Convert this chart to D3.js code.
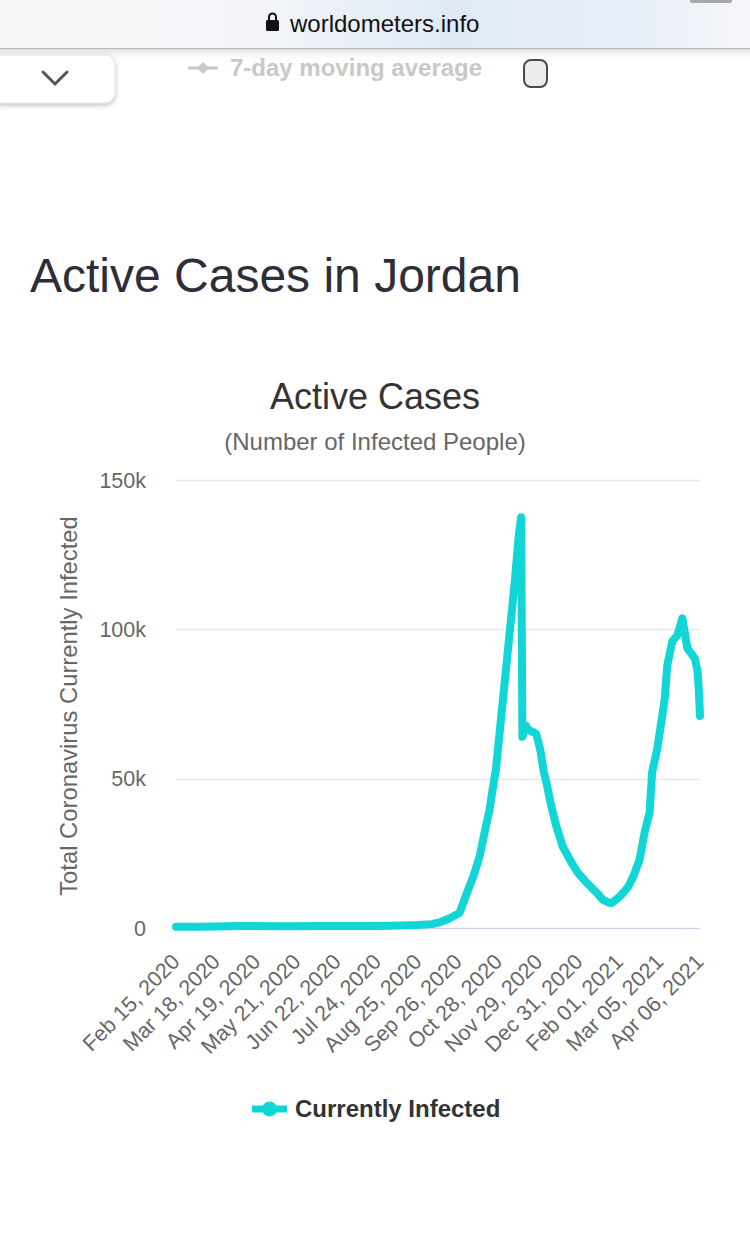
<!DOCTYPE html>
<html>
<head>
<meta charset="utf-8">
<script src="https://cdn.jsdelivr.net/npm/d3@7"></script>
<style>
html,body{margin:0;padding:0;background:#fff;}
svg{display:block;font-family:"Liberation Sans",Arial,Helvetica,sans-serif;}
</style>
</head>
<body>
<svg id="c" width="750" height="1242"></svg>
<script>
// ---- data ----
const dates = ["2020-02-15","2020-03-01","2020-03-18","2020-04-05","2020-04-19","2020-05-05","2020-05-21","2020-06-06","2020-06-22","2020-07-08","2020-07-24","2020-08-10","2020-08-25","2020-09-05","2020-09-12","2020-09-19","2020-09-27","2020-10-03","2020-10-08","2020-10-13","2020-10-17","2020-10-21","2020-10-23","2020-10-26","2020-10-29","2020-11-02","2020-11-06","2020-11-10","2020-11-13","2020-11-15","2020-11-16","2020-11-19","2020-11-20","2020-11-25","2020-11-27","2020-11-30","2020-12-01","2020-12-03","2020-12-05","2020-12-09","2020-12-13","2020-12-18","2020-12-25","2020-12-30","2021-01-06","2021-01-14","2021-01-19","2021-01-24","2021-01-26","2021-02-01","2021-02-04","2021-02-08","2021-02-12","2021-02-17","2021-02-21","2021-02-25","2021-02-27","2021-03-03","2021-03-07","2021-03-09","2021-03-11","2021-03-15","2021-03-19","2021-03-23","2021-03-27","2021-04-02","2021-04-04","2021-04-05","2021-04-06"];
const activeCases = [400,400,500,700,700,600,600,700,700,700,700,800,1000,1300,2000,3200,5000,11800,17200,23900,32000,39700,45500,53200,65700,82500,99300,116200,131000,137500,64000,67700,66500,65500,65000,60000,57600,52200,48800,40700,34000,27300,21900,18500,15200,11800,9400,8400,8400,10400,11800,13800,17200,22900,32000,38700,52200,59900,71000,76800,87900,96000,98000,103700,93600,90200,86000,80000,71000];
const tickDates = ["2020-02-15","2020-03-18","2020-04-19","2020-05-21","2020-06-22","2020-07-24","2020-08-25","2020-09-26","2020-10-28","2020-11-29","2020-12-31","2021-02-01","2021-03-05","2021-04-06"];
const tickLabels = ["Feb 15, 2020","Mar 18, 2020","Apr 19, 2020","May 21, 2020","Jun 22, 2020","Jul 24, 2020","Aug 25, 2020","Sep 26, 2020","Oct 28, 2020","Nov 29, 2020","Dec 31, 2020","Feb 01, 2021","Mar 05, 2021","Apr 06, 2021"];
const yTicks = [0,50000,100000,150000];
const yTickLabels = ["0","50k","100k","150k"];

const parse = d3.utcParse("%Y-%m-%d");
const data = dates.map((d,i)=>({date:parse(d), v:activeCases[i]}));
const tdates = tickDates.map(parse);

const svg = d3.select("#c");
const lineColor = "#12d6d6";

// ---- browser chrome ----
const defs = svg.append("defs");
const g1 = defs.append("linearGradient").attr("id","bar").attr("x1","0").attr("x2","1").attr("y1","0").attr("y2","0");
g1.append("stop").attr("offset","0").attr("stop-color","#f7f7f8");
g1.append("stop").attr("offset","0.35").attr("stop-color","#f3f5f8");
g1.append("stop").attr("offset","0.6").attr("stop-color","#dfeaf6");
g1.append("stop").attr("offset","0.85").attr("stop-color","#e8eff8");
g1.append("stop").attr("offset","1").attr("stop-color","#f6f7f9");
const g2 = defs.append("linearGradient").attr("id","shade").attr("x1","0").attr("x2","0").attr("y1","0").attr("y2","1");
g2.append("stop").attr("offset","0").attr("stop-color","#d8d8d8").attr("stop-opacity",0.9);
g2.append("stop").attr("offset","1").attr("stop-color","#ffffff").attr("stop-opacity",0);
const f = defs.append("filter").attr("id","tabshadow").attr("x","-20%").attr("y","-20%").attr("width","140%").attr("height","160%");
f.append("feDropShadow").attr("dx",0).attr("dy",2).attr("stdDeviation",2.5).attr("flood-color","#000").attr("flood-opacity",0.25);

svg.append("rect").attr("x",0).attr("y",48).attr("width",750).attr("height",14).attr("fill","url(#shade)");
svg.append("rect").attr("x",0).attr("y",0).attr("width",750).attr("height",48).attr("fill","url(#bar)");
svg.append("line").attr("x1",0).attr("x2",750).attr("y1",48.5).attr("y2",48.5).attr("stroke","#b4b4b4").attr("stroke-width",1);
svg.append("rect").attr("x",690).attr("y",-4).attr("width",42).attr("height",7).attr("rx",2).attr("fill","#a8a8a8");
// lock icon
svg.append("rect").attr("x",266).attr("y",20).attr("width",13).attr("height",11).attr("rx",1.5).attr("fill","#111");
svg.append("path").attr("d","M269,21 V17 A3.5,3.5 0 0 1 276,17 V21").attr("fill","none").attr("stroke","#111").attr("stroke-width",2);
svg.append("text").attr("x",290).attr("y",32).attr("font-size",24).attr("fill","#111").text("worldometers.info");

// tab with chevron
svg.append("rect").attr("x",-12).attr("y",55).attr("width",127).attr("height",48).attr("rx",10).attr("fill","#fff").attr("stroke","#e3e3e3").attr("filter","url(#tabshadow)");
svg.append("path").attr("d","M43,72 L55,84 L67,72").attr("fill","none").attr("stroke","#555").attr("stroke-width",3).attr("stroke-linecap","round");

// faded legend "7-day moving average"
svg.append("line").attr("x1",188).attr("x2",218).attr("y1",68).attr("y2",68).attr("stroke","#c8c8c8").attr("stroke-width",3);
svg.append("path").attr("d","M203,62 L209,68 L203,74 L197,68 Z").attr("fill","#c8c8c8");
svg.append("text").attr("x",230).attr("y",76).attr("font-size",24).attr("font-weight","bold").attr("fill","#c8c8c8").text("7-day moving average");
svg.append("rect").attr("x",524).attr("y",60).attr("width",23).attr("height",27).attr("rx",7).attr("fill","#ececec").attr("stroke","#4a4a4a").attr("stroke-width",2);

// ---- titles ----
svg.append("text").attr("x",30).attr("y",292).attr("font-size",48).attr("fill","#2e2e3a").text("Active Cases in Jordan");
svg.append("text").attr("x",375).attr("y",409).attr("text-anchor","middle").attr("font-size",36).attr("fill","#333").text("Active Cases");
svg.append("text").attr("x",375).attr("y",450).attr("text-anchor","middle").attr("font-size",24).attr("fill","#666").text("(Number of Infected People)");

// ---- chart ----
const x = d3.scaleUtc().domain([parse("2020-02-15"), parse("2021-04-06")]).range([176,700]);
const y = d3.scaleLinear().domain([0,150000]).range([928,480]);

// grid
svg.append("g").selectAll("line").data(yTicks).join("line")
  .attr("x1",176).attr("x2",700)
  .attr("y1",d=>Math.round(y(d))+0.5).attr("y2",d=>Math.round(y(d))+0.5)
  .attr("stroke",d=>d===0?"#ccd6eb":"#e6e6e6").attr("stroke-width",1.5);

// y labels
svg.append("g").selectAll("text").data(yTicks).join("text")
  .attr("x",146).attr("y",d=>y(d)+7.5).attr("text-anchor","end")
  .attr("font-size",21.5).attr("fill","#666").text((d,i)=>yTickLabels[i]);

// y title
svg.append("text").attr("transform","translate(77,706) rotate(-90)").attr("text-anchor","middle")
  .attr("font-size",23.8).attr("fill","#666").text("Total Coronavirus Currently Infected");

// x labels
svg.append("g").selectAll("text").data(tdates).join("text")
  .attr("transform",d=>`translate(${x(d)+5},${963}) rotate(-45)`)
  .attr("text-anchor","end").attr("font-size",21.5).attr("fill","#666")
  .text((d,i)=>tickLabels[i]);

// line
const line = d3.line().x(d=>x(d.date)).y(d=>y(d.v)).curve(d3.curveLinear);
svg.append("path").datum(data).attr("d",line).attr("fill","none")
  .attr("stroke",lineColor).attr("stroke-width",8).attr("stroke-linejoin","round").attr("stroke-linecap","round");

// legend
svg.append("line").attr("x1",252).attr("x2",287).attr("y1",1109).attr("y2",1109).attr("stroke",lineColor).attr("stroke-width",7);
svg.append("circle").attr("cx",269.5).attr("cy",1109).attr("r",7.5).attr("fill",lineColor);
svg.append("text").attr("x",295).attr("y",1117).attr("font-size",24).attr("font-weight","bold").attr("fill","#333").text("Currently Infected");
</script>
</body>
</html>
